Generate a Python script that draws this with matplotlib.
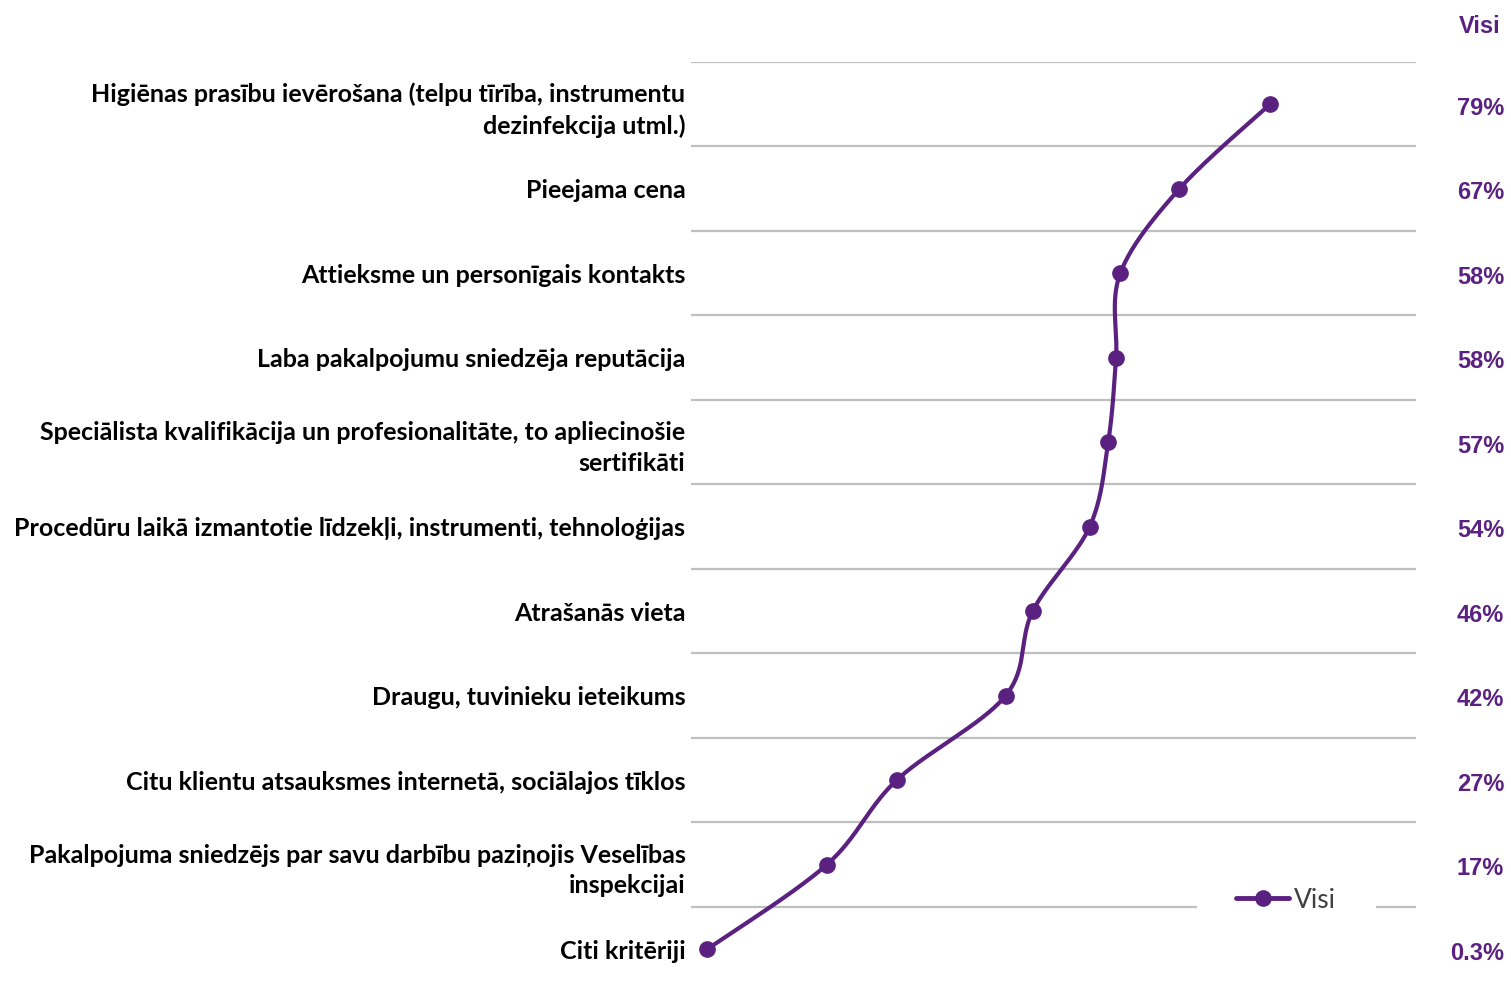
import numpy as np
import matplotlib
matplotlib.use("Agg")
import matplotlib.pyplot as plt
from matplotlib.lines import Line2D

categories = [
    "Higiēnas prasību ievērošana (telpu tīrība, instrumentu\ndezinfekcija utml.)",
    "Pieejama cena",
    "Attieksme un personīgais kontakts",
    "Laba pakalpojumu sniedzēja reputācija",
    "Speciālista kvalifikācija un profesionalitāte, to apliecinošie\nsertifikāti",
    "Procedūru laikā izmantotie līdzekļi, instrumenti, tehnoloģijas",
    "Atrašanās vieta",
    "Draugu, tuvinieku ieteikums",
    "Citu klientu atsauksmes internetā, sociālajos tīklos",
    "Pakalpojuma sniedzējs par savu darbību paziņojis Veselības\ninspekcijai",
    "Citi kritēriji",
]
visi = [79.3, 66.6, 58.3, 57.7, 56.6, 54.0, 46.0, 42.2, 26.9, 17.1, 0.3]
value_labels = ["79%", "67%", "58%", "58%", "57%", "54%", "46%", "42%", "27%", "17%", "0.3%"]
series_name = "Visi"

purple = "#5b2181"
grid_c = "#bfbfbf"


def smooth(xs, ys, n=40):
    # excel-like smoothing (catmull-rom as cubic bezier)
    p = np.column_stack([xs, ys]).astype(float)
    p_ext = np.vstack([p[0], p, p[-1]])
    out = []
    t = np.linspace(0, 1, n)[:, None]
    for i in range(len(p) - 1):
        p0, p1, p2, p3 = p_ext[i], p_ext[i + 1], p_ext[i + 2], p_ext[i + 3]
        c1 = p1 + (p2 - p0) / 6
        c2 = p2 - (p3 - p1) / 6
        seg = ((1 - t) ** 3) * p1 + 3 * ((1 - t) ** 2) * t * c1 + 3 * (1 - t) * t ** 2 * c2 + t ** 3 * p2
        out.append(seg)
    out = np.vstack(out)
    return out[:, 0], out[:, 1]


W, H = 1511, 986
fig = plt.figure(figsize=(W / 100, H / 100), dpi=100)
ax = fig.add_axes([691 / W, 0, (1416 - 691) / W, (H - 62) / H])

ypos = np.arange(len(categories))
ax.set_xlim(-1.95, 99.8)
ax.set_ylim(10.435, -0.5)

ax.hlines(np.arange(-0.5, len(categories) - 1, 1.0), -1.95, 99.8, color=grid_c, lw=1.6, zorder=1)

sx, sy = smooth(visi, ypos)
ax.plot(sx, sy, color=purple, lw=3, solid_capstyle="round", zorder=3)
ax.plot(visi, ypos, "o", color=purple, ms=11, zorder=4)

ax.set_yticks(ypos)
ax.set_yticklabels(categories, fontfamily="Lato", fontweight="bold", fontsize=18, linespacing=1.4)
ax.tick_params(axis="y", length=0, pad=4)
ax.set_xticks([])
for s in ax.spines.values():
    s.set_visible(False)

tr = ax.get_yaxis_transform()
for y, lab in zip(ypos, value_labels):
    ax.text(1.1214, y + 0.05, lab, transform=tr, ha="right", va="center", color=purple,
            fontfamily="Liberation Sans", fontweight="bold", fontsize=17, clip_on=False)
ax.text(1.116, -0.92, series_name, transform=tr, ha="right", va="center", color=purple,
        fontfamily="Liberation Sans", fontweight="bold", fontsize=17, clip_on=False)

handle = Line2D([], [], color=purple, lw=3.5, marker="o", ms=11, solid_capstyle="round")
leg = ax.legend([handle], [series_name], loc="center", bbox_to_anchor=(0.821, 1 - (900 - 62) / (H - 62)),
                frameon=True, facecolor="white", edgecolor="none", framealpha=1,
                handlelength=2.0, handletextpad=0.2, borderpad=1.5, borderaxespad=0,
                prop={"family": "Lato", "size": 19})
leg.get_texts()[0].set_color("#404040")
leg.set_zorder(5)

fig.savefig("out.png", dpi=100)
